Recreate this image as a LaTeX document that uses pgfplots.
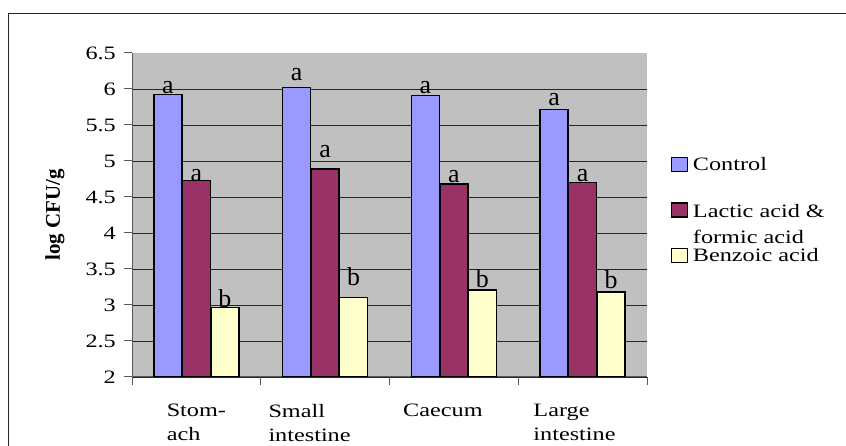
\documentclass[border=0pt]{standalone}
\usepackage{pgfplots}
\pgfplotsset{compat=1.18}
\usepackage{pgfplotstable}
\usepackage{fontspec}
\setmainfont[FakeStretch=1.28]{Liberation Serif}
\newfontfamily\ylabfont{Liberation Serif}
\definecolor{cctrl}{HTML}{9999FF}
\definecolor{clact}{HTML}{993366}
\definecolor{cbenz}{HTML}{FFFFCC}
\definecolor{cbg}{HTML}{C0C0C0}
\pgfplotstableread{
x y l d
0 5.92 a 1
1 6.02 a 7
2 5.91 a 2
3 5.72 a 4
}\ctrl
\pgfplotstableread{
x y l d
0 4.73 a -1
1 4.89 a 12
2 4.68 a 2
3 4.70 a 1
}\lact
\pgfplotstableread{
x y l d
0 2.97 b 0
1 3.10 b 12
2 3.21 b 2
3 3.18 b 4
}\benz
\newcommand{\tf}{\fontsize{19}{24}\selectfont}
\newcommand{\lf}{\ylabfont\fontsize{26}{30}\selectfont}
\begin{document}
\begin{tikzpicture}[x=1bp,y=1bp]
\path[use as bounding box] (0,0) rectangle (846,446);
\draw[black!85,line width=1bp] (8,0) -- (8,432) -- (846,432);
\begin{axis}[
  at={(132bp,69bp)}, anchor=south west,
  scale only axis, width=515bp, height=324bp,
  xmin=-0.5, xmax=3.5, ymin=2, ymax=6.5,
  axis background/.style={fill=cbg},
  axis x line*=bottom, axis y line*=left,
  axis line style={-, black!65, line width=1bp},
  tick align=outside, major tick length=8bp,
  tick style={black!65, line width=1bp},
  ytick={2,2.5,...,6.01},
  extra y ticks={6.5}, extra y tick style={grid=none},
  ymajorgrids, major grid style={black!85, line width=0.9bp},
  /pgf/number format/assume math mode=true,
  yticklabel style={font=\tf, inner sep=0pt, xshift=-8bp},
  xtick={-0.5,0.5,1.5,2.5,3.5}, xticklabels={},
  extra x ticks={0,0.879,1.915,2.937},
  extra x tick labels={Stom-\\ach, Small\\intestine, Caecum, Large\\intestine},
  extra x tick style={major tick length=0pt, grid=none,
    xticklabel style={font=\tf, align=left, anchor=north, inner sep=0pt, yshift=-27bp}},
  ylabel={\ylabfont\fontsize{21}{25}\selectfont\bfseries log CFU/g},
  ylabel style={at={(rel axis cs:0,0.5)}, anchor=center, yshift=77bp},
  ybar=0.5bp, bar width=28bp,
  every axis plot/.append style={draw=black, line width=1.3bp},
  visualization depends on={\thisrow{d} \as \dy},
  nodes near coords={\lf\pgfplotspointmeta}, point meta=explicit symbolic,
  nodes near coords style={inner sep=0pt, anchor=south, yshift=\dy bp - 1bp, black},
  legend image code/.code={\draw[#1, line width=1.2bp] (0bp,-7bp) rectangle (16bp,7bp); \path (19bp,0bp);},
  legend style={draw=none, fill=none, at={(1,0.5)}, anchor=west, xshift=21bp, yshift=5bp,
    font=\tf, row sep=26bp, legend cell align=left,
    nodes={inner sep=1.5bp}},
]
\addplot[fill=cctrl] table[x=x,y=y,meta=l]{\ctrl};
\addplot[fill=clact] table[x=x,y=y,meta=l]{\lact};
\addplot[fill=cbenz] table[x=x,y=y,meta=l]{\benz};
\legend{Control, {\raisebox{0pt}[\height][0pt]{\begin{tabular}[t]{@{}l@{}}Lactic acid \&\\[2bp]formic acid\end{tabular}}}, Benzoic acid}
\end{axis}
\end{tikzpicture}
\end{document}
